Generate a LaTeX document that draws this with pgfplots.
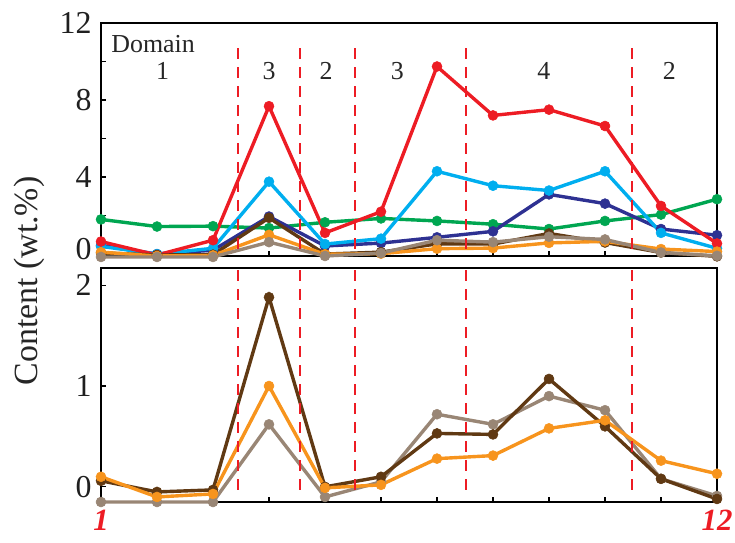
\documentclass[border=0pt]{standalone}
\usepackage{fontspec}
\setmainfont{Liberation Serif}
\usepackage{pgfplots}
\pgfplotsset{compat=1.18}
\definecolor{cred}{HTML}{ED1C24}
\definecolor{ccyan}{HTML}{00AEEF}
\definecolor{cgreen}{HTML}{00A651}
\definecolor{cnavy}{HTML}{2E3192}
\definecolor{cbrown}{HTML}{603913}
\definecolor{corange}{HTML}{F7941D}
\definecolor{cgray}{HTML}{998675}

\pgfplotstableread{
x red cyan green navy brown orange gray
1 0.65 0.40 1.80 0.45 0.06 0.10 -0.15
2 -0.05 0.00 1.43 0.00 -0.05 -0.10 -0.15
3 0.72 0.30 1.45 0.20 -0.03 -0.07 -0.15
4 7.68 3.76 1.35 1.95 1.88 1.00 0.62
5 1.10 0.52 1.65 0.42 0.00 -0.01 -0.10
6 2.20 0.80 1.85 0.57 0.10 0.02 0.05
7 9.74 4.30 1.72 0.87 0.53 0.28 0.72
8 7.20 3.55 1.55 1.18 0.52 0.31 0.62
9 7.50 3.30 1.30 3.10 1.07 0.58 0.90
10 6.65 4.30 1.72 2.62 0.60 0.66 0.76
11 2.50 1.10 2.05 1.30 0.08 0.26 0.08
12 0.55 0.30 2.85 0.98 -0.12 0.13 -0.09
}\datatable

\tikzset{divider/.style={cred, line width=2.2bp, dash pattern=on 11bp off 8bp}}
\pgfplotsset{
  panel/.style={
    scale only axis, width=616bp, xmin=1, xmax=12, clip=false,
    axis line style={line width=1.4bp, black},
    tick align=inside, major tick length=5bp,
    every tick/.style={line width=1.2bp, black},
    xtick pos=lower, ytick pos=left,
    xtick={1,...,12},
    yticklabel style={font=\fontsize{32}{36}\selectfont, xshift=-6bp, text=black!88},
    /pgf/number format/assume math mode=true,
  },
  ser/.style={line width=3.4bp, color=#1, mark=*, mark size=5bp, mark options={solid, fill=#1, draw=#1, line width=0.5bp}},
}

\begin{document}
\begin{tikzpicture}
\useasboundingbox (0,0) rectangle (735bp,543bp);
% top panel
\begin{axis}[panel, at={(101bp,287bp)}, anchor=south west, height=233bp,
  ymin=-0.1, ymax=12, ytick={0,2,...,12},
  yticklabels={\raisebox{11bp}{0},,4,,8,,12}, xticklabels={}]
\addplot[ser=cgreen] table[x=x,y=green]{\datatable};
\addplot[ser=cnavy] table[x=x,y=navy]{\datatable};
\addplot[ser=ccyan] table[x=x,y=cyan]{\datatable};
\addplot[ser=cred] table[x=x,y=red]{\datatable};
\addplot[ser=cbrown] table[x=x,y=brown]{\datatable};
\addplot[ser=corange] table[x=x,y=orange]{\datatable};
\addplot[ser=cgray] table[x=x,y=gray]{\datatable};
\draw[divider] (axis cs:3.45,10.7) -- (axis cs:3.45,-0.1);
\draw[divider] (axis cs:4.55,10.7) -- (axis cs:4.55,-0.1);
\draw[divider] (axis cs:5.54,10.7) -- (axis cs:5.54,-0.1);
\draw[divider] (axis cs:7.52,10.7) -- (axis cs:7.52,-0.1);
\draw[divider] (axis cs:10.48,10.7) -- (axis cs:10.48,-0.1);
\begin{scope}[every node/.style={font=\fontsize{26}{30}\selectfont, text=black!85}]
\node at (axis cs:1.93,10.9) {Domain};
\node at (axis cs:2.10,9.5) {1};
\node at (axis cs:4.00,9.5) {3};
\node at (axis cs:5.02,9.5) {2};
\node at (axis cs:6.29,9.5) {3};
\node at (axis cs:8.91,9.5) {4};
\node at (axis cs:11.15,9.5) {2};
\end{scope}
\end{axis}
% bottom panel
\begin{axis}[panel, at={(101bp,41bp)}, anchor=south west, height=234bp,
  ymin=-0.15, ymax=2.17, ytick={0,1,2},
  xticklabels={\textbf{\textit{1}},,,,,,,,,,,\textbf{\textit{12}}},
  xticklabel style={font=\fontsize{31}{34}\selectfont, text=cred, yshift=-5bp}]
\addplot[ser=cgray] table[x=x,y=gray]{\datatable};
\addplot[ser=cbrown] table[x=x,y=brown]{\datatable};
\addplot[ser=corange] table[x=x,y=orange]{\datatable};
\draw[divider] (axis cs:3.45,2.15) -- (axis cs:3.45,-0.08);
\draw[divider] (axis cs:4.55,2.15) -- (axis cs:4.55,-0.08);
\draw[divider] (axis cs:5.54,2.15) -- (axis cs:5.54,-0.08);
\draw[divider] (axis cs:7.52,2.15) -- (axis cs:7.52,-0.08);
\draw[divider] (axis cs:10.48,2.15) -- (axis cs:10.48,-0.08);
\end{axis}
\node[rotate=90, font=\fontsize{34}{38}\selectfont, text=black!85] at (29bp,262bp) {Content (wt.\%)};
\end{tikzpicture}
\end{document}
